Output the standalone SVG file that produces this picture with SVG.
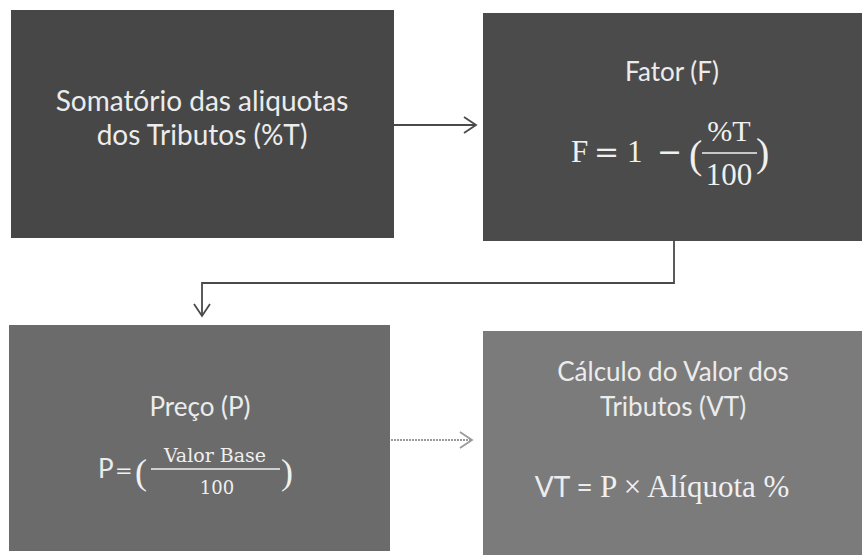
<svg xmlns="http://www.w3.org/2000/svg" width="862" height="555" viewBox="0 0 862 555">
<defs>
<marker id="chevDark" markerUnits="userSpaceOnUse" markerWidth="16" markerHeight="20" refX="13" refY="9" orient="auto">
<path d="M1,1 L13,9 L1,17" fill="none" stroke="#4a4a4a" stroke-width="1.8"/>
</marker>
<marker id="chevLight" markerUnits="userSpaceOnUse" markerWidth="16" markerHeight="20" refX="13" refY="9" orient="auto">
<path d="M1,1 L13,9 L1,17" fill="none" stroke="#9a9a9a" stroke-width="1.8"/>
</marker>
</defs>
<style>
.sans{font-family:Lato,"Open Sans","Liberation Sans",sans-serif;fill:#ececec;}
.serif{font-family:"DejaVu Serif","Liberation Serif",serif;fill:#f0f0f0;}
.tserif{font-family:"Liberation Serif","DejaVu Serif",serif;fill:#f0f0f0;}
.conn{fill:none;stroke-width:1.8;}
.bar{stroke:#f0f0f0;}
</style>
<rect width="862" height="555" fill="#ffffff"/>
<g id="node-somatorio">
<rect x="11" y="10" width="383" height="228" fill="#474747"/>
<text class="sans" x="202" y="111" font-size="28" text-anchor="middle">Somatório das aliquotas</text>
<text class="sans" x="202" y="145" font-size="28" text-anchor="middle">dos Tributos (%T)</text>
</g>
<g id="node-fator">
<rect x="483" y="13" width="379" height="228" fill="#4b4b4b"/>
<text class="sans" x="672" y="81" font-size="26" text-anchor="middle">Fator (F)</text>
<text class="tserif" x="571" y="162" font-size="31">F</text>
<text class="serif" x="594" y="162" font-size="30">=</text>
<text class="tserif" x="627" y="162" font-size="31">1</text>
<text class="serif" x="657" y="162" font-size="30">−</text>
<text class="tserif" x="689" y="168" font-size="40">(</text>
<text class="tserif" x="729" y="141" font-size="30" text-anchor="middle">%T</text>
<line class="bar" x1="702" y1="153" x2="757" y2="153" stroke-width="1.6"/>
<text class="tserif" x="729" y="185" font-size="31" text-anchor="middle">100</text>
<text class="tserif" x="756" y="166" font-size="40">)</text>
</g>
<g id="node-preco">
<rect x="9" y="325" width="381" height="226" fill="#6b6b6b"/>
<text class="sans" x="200" y="416" font-size="26" text-anchor="middle">Preço (P)</text>
<text class="sans" x="98" y="478" font-size="26">P</text>
<text class="serif" x="115" y="478" font-size="21">=</text>
<text class="tserif" x="135" y="484" font-size="36">(</text>
<text class="serif" x="215" y="462" font-size="19" text-anchor="middle">Valor Base</text>
<line class="bar" x1="151" y1="469" x2="280" y2="469" stroke-width="1.4"/>
<text class="serif" x="217" y="494" font-size="18" text-anchor="middle">100</text>
<text class="tserif" x="281" y="484" font-size="36">)</text>
</g>
<g id="node-calculo">
<rect x="483" y="331" width="379" height="224" fill="#7b7b7b"/>
<text class="sans" x="673" y="381" font-size="26" text-anchor="middle">Cálculo do Valor dos</text>
<text class="sans" x="673" y="416" font-size="26" text-anchor="middle">Tributos (VT)</text>
<text x="662" y="497" font-size="31" text-anchor="middle"><tspan class="sans" font-size="28">VT = </tspan><tspan class="tserif">P  × Alíquota %</tspan></text>
</g>
<g id="connectors">
<path class="conn" d="M394,125 H476" stroke="#4a4a4a" marker-end="url(#chevDark)"/>
<path class="conn" d="M674,241 V283 H202 V316" stroke="#4a4a4a" marker-end="url(#chevDark)"/>
<path class="conn" d="M391,440 H472" stroke="#9a9a9a" stroke-dasharray="2 1" marker-end="url(#chevLight)"/>
</g>
</svg>
